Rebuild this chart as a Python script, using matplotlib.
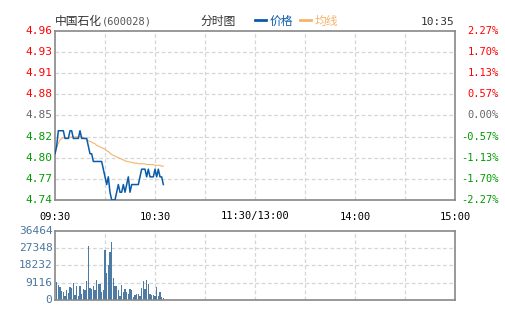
import numpy as np
import matplotlib
matplotlib.use('Agg')
import matplotlib.pyplot as plt
from matplotlib.lines import Line2D
from matplotlib import transforms

plt.rcParams['font.family'] = ['Noto Sans CJK SC', 'DejaVu Sans']

# minute-by-minute data from 09:30 to 10:35
price = [4.80, 4.81, 4.83, 4.83, 4.83, 4.83, 4.82, 4.82, 4.82, 4.83,
         4.83, 4.82, 4.82, 4.82, 4.82, 4.83, 4.82, 4.82, 4.82, 4.82,
         4.81, 4.80, 4.80, 4.79, 4.79, 4.79, 4.79, 4.79, 4.79, 4.78,
         4.77, 4.76, 4.77, 4.75, 4.74, 4.74, 4.74, 4.75, 4.76, 4.75,
         4.75, 4.76, 4.75, 4.76, 4.77, 4.75, 4.76, 4.76, 4.76, 4.76,
         4.76, 4.77, 4.78, 4.78, 4.78, 4.77, 4.78, 4.77, 4.77, 4.77,
         4.78, 4.77, 4.78, 4.77, 4.77, 4.76]
avg_price = [4.800, 4.808, 4.814, 4.818, 4.820, 4.821, 4.821, 4.821, 4.821, 4.821,
             4.822, 4.822, 4.822, 4.822, 4.822, 4.822, 4.822, 4.821, 4.820, 4.818,
             4.817, 4.816, 4.815, 4.814, 4.813, 4.811, 4.810, 4.809, 4.808, 4.807,
             4.806, 4.804, 4.803, 4.801, 4.799, 4.798, 4.797, 4.796, 4.795, 4.794,
             4.793, 4.792, 4.791, 4.790, 4.790, 4.789, 4.789, 4.788, 4.788, 4.788,
             4.787, 4.787, 4.787, 4.787, 4.787, 4.786, 4.786, 4.786, 4.786, 4.786,
             4.785, 4.785, 4.785, 4.785, 4.784, 4.784]
volume = [9470, 7700, 6800, 4900, 4200, 2100, 5250, 3700, 6800, 6300,
          8900, 2600, 7300, 2100, 7200, 3150, 5800, 5400, 10000, 28200,
          6300, 5800, 7200, 5250, 10500, 8400, 8400, 4200, 5250, 26300,
          14200, 18400, 25200, 30500, 11570, 7300, 7300, 5250, 2100, 7900,
          4200, 5800, 4200, 3150, 5800, 5250, 1600, 2600, 3150, 3150,
          2100, 6300, 10000, 5800, 10500, 8400, 3150, 2600, 2600, 2100,
          6800, 2100, 4200, 1600, 1050]

prev_close = 4.85
price_labels = ['4.74', '4.77', '4.80', '4.82', '4.85', '4.88', '4.91', '4.93', '4.96']
pct_labels = ['-2.27%', '-1.70%', '-1.13%', '-0.57%', '0.00%', '0.57%', '1.13%', '1.70%', '2.27%']
vol_labels = ['0', '9116', '18232', '27348', '36464']
time_labels = ['09:30', '10:30', '11:30/13:00', '14:00', '15:00']

RED = '#ff0000'
GREEN = '#009900'
GRAY = '#666666'
VOLC = '#4a76a0'
mono = 'DejaVu Sans Mono'

fig = plt.figure(figsize=(5.05, 3.30), dpi=100)
ax = fig.add_axes([55 / 505, 130 / 330, 400 / 505, 169.3 / 330])
axv = fig.add_axes([55 / 505, 30 / 330, 400 / 505, 69.3 / 330])

lo, hi = prev_close * (1 - 0.0227), prev_close * (1 + 0.0227)
minutes = np.arange(len(price))

for a in (ax, axv):
    a.set_xlim(0, 240)
    a.set_xticks([])
    a.set_yticks([])
    for s in a.spines.values():
        s.set_color('#888888')
        s.set_linewidth(1.2)
    for xv in range(30, 240, 30):
        a.axvline(xv, color='#d6d6d6', lw=0.9, ls=(0, (3, 2)), zorder=0)

ax.set_ylim(lo, hi)
levels = np.linspace(lo, hi, 9)
for lv in levels[1:-1]:
    ax.axhline(lv, color='#d6d6d6', lw=0.9, ls=(0, (3, 2)), zorder=0)

ax.plot(minutes, avg_price, color='#f5b46e', lw=0.8, zorder=2)
ax.plot(minutes, price, color='#0a5baa', lw=1.1, zorder=3)

left_tr = transforms.blended_transform_factory(fig.transFigure, ax.transData)
for i, lv in enumerate(levels):
    c = RED if i > 4 else (GRAY if i == 4 else GREEN)
    ax.text(52.5 / 505, lv, price_labels[i], color=c, ha='right', va='center',
            fontsize=8, family=mono, transform=left_tr, clip_on=False)
    ax.text(499 / 505, lv, pct_labels[i], color=c, ha='right', va='center',
            fontsize=7.5, family=mono, transform=left_tr, clip_on=False)

vmax = 36464
axv.set_ylim(0, vmax)
vlevels = np.linspace(0, vmax, 5)
for lv in vlevels[1:-1]:
    axv.axhline(lv, color='#d6d6d6', lw=0.9, ls=(0, (3, 2)), zorder=0)
axv.bar(np.arange(1, len(volume) + 1), volume, width=0.7, color='#4d7ba3', zorder=2)
vol_tr = transforms.blended_transform_factory(fig.transFigure, axv.transData)
for i, lv in enumerate(vlevels):
    axv.text(52.5 / 505, lv, vol_labels[i], color=VOLC, ha='right', va='center',
             fontsize=8, family=mono, transform=vol_tr, clip_on=False)

for i, t in enumerate(time_labels):
    fig.text((55 + 100 * i) / 505, 1 - 216.5 / 330, t, ha='center', va='center',
             fontsize=7.5, family=mono, color='black')

# header
fig.text(55 / 505, 1 - 21 / 330, '中国石化', ha='left', va='center',
         fontsize=8.5, color='#333333')
fig.text(102 / 505, 1 - 21 / 330, '(600028)', ha='left', va='center',
         fontsize=7.5, color='#555555', family=mono)
fig.text(200 / 505, 1 - 21 / 330, '分时图', ha='left', va='center',
         fontsize=8.5, color='#333333')
fig.add_artist(Line2D([255 / 505, 266 / 505], [1 - 20 / 330] * 2, color='#0a5baa', lw=2))
fig.text(270 / 505, 1 - 21 / 330, '价格', ha='left', va='center',
         fontsize=8.5, color='#0a5baa')
fig.add_artist(Line2D([300 / 505, 311 / 505], [1 - 20 / 330] * 2, color='#f5b46e', lw=2))
fig.text(315 / 505, 1 - 21 / 330, '均线', ha='left', va='center',
         fontsize=8.5, color='#f5b46e')
fig.text(454 / 505, 1 - 22 / 330, '10:35', ha='right', va='center',
         fontsize=8, color='#333333', family=mono)

fig.savefig('out.png', dpi=100, facecolor='white')
